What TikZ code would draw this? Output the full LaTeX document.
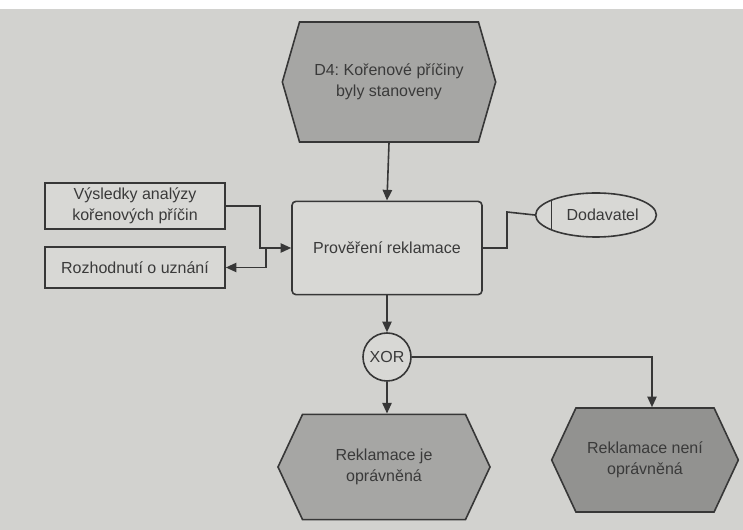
\documentclass[tikz,border=0pt]{standalone}
\usepackage{fontspec}
\setmainfont{Liberation Sans}
\frenchspacing
\usetikzlibrary{shapes.symbols,shapes.geometric,arrows.meta}
\definecolor{paper}{RGB}{210,210,207}
\definecolor{boxfill}{RGB}{216,216,213}
\definecolor{evfill}{RGB}{166,166,164}
\definecolor{evdark}{RGB}{146,146,144}
\definecolor{ink}{RGB}{55,55,55}
\definecolor{txt}{RGB}{58,58,58}
\tikzset{
  base/.style={draw=ink, line width=1.2pt, text=txt, align=center, inner sep=0pt},
  event/.style={base, shape=signal, signal to=west and east, fill=evfill},
  func/.style={base, rectangle, rounded corners=3pt, fill=boxfill},
  info/.style={base, rectangle, fill=boxfill},
  org/.style={base, ellipse, fill=boxfill,
    path picture={\draw[ink, line width=1.2pt]
      ([xshift=12pt]path picture bounding box.north west) --
      ([xshift=12pt]path picture bounding box.south west);}},
  gate/.style={base, circle, fill=boxfill, minimum size=36pt},
  flow/.style={draw=ink, line width=1.2pt, -{Triangle[length=8pt,width=7pt]}},
  link/.style={draw=ink, line width=1.2pt}
}
\begin{document}
\begin{tikzpicture}[x=0.75pt,y=-0.75pt, font=\fontsize{12}{16}\selectfont]
  % paper background
  \fill[paper] (0,0) rectangle (743,530);
  \fill[white] (0,0) rectangle (743,9);
  \useasboundingbox (0,0) rectangle (743,530);

  % events
  \node[event, signal pointer angle=148, minimum width=160pt, minimum height=90pt]
    (d4) at (389,82) {D4: Kořenové příčiny\\byly stanoveny};
  \node[event, signal pointer angle=130, minimum width=159pt, minimum height=79pt]
    (ok) at (384,467) {Reklamace je\\oprávněná};
  \node[event, fill=evdark, signal pointer angle=130, minimum width=140pt, minimum height=78pt]
    (nok) at (645,460) {Reklamace není\\oprávněná};

  % function
  \node[func, minimum width=142.5pt, minimum height=70pt]
    (fn) at (387,248) {Prověření reklamace};

  % information objects
  \node[info, minimum width=135pt, minimum height=34.5pt]
    (res) at (135,206) {Výsledky analýzy\\kořenových příčin};
  \node[info, minimum width=135pt, minimum height=31pt]
    (dec) at (135,267.5) {Rozhodnutí o uznání};

  % organisational unit
  \node[org, minimum width=88.5pt, minimum height=33pt]
    (dod) at (596,215) {\hspace*{10pt}Dodavatel};

  % connector
  \node[gate] (xor) at (387,357) {XOR};

  % flows
  \draw[flow] (d4.south) -- (fn.north);
  \draw[flow] (fn.south) -- (xor.north);
  \draw[flow] (xor.south) -- (xor.south |- ok.north);
  \coordinate (rj) at (652,357);
  \draw[flow] (xor.east) -- (rj) -- (rj |- nok.north);

  % information and organisation links
  \coordinate (ia) at (260,206);
  \coordinate (ib) at (266,248);
  \draw[flow] (res.east) -- (ia) -- (ia |- fn.west) -- (fn.west);
  \draw[flow] (ib) |- (dec.east);
  \coordinate (oa) at (507,212);
  \draw[link] (fn.east) -| (oa) -- (dod.west);
\end{tikzpicture}
\end{document}
